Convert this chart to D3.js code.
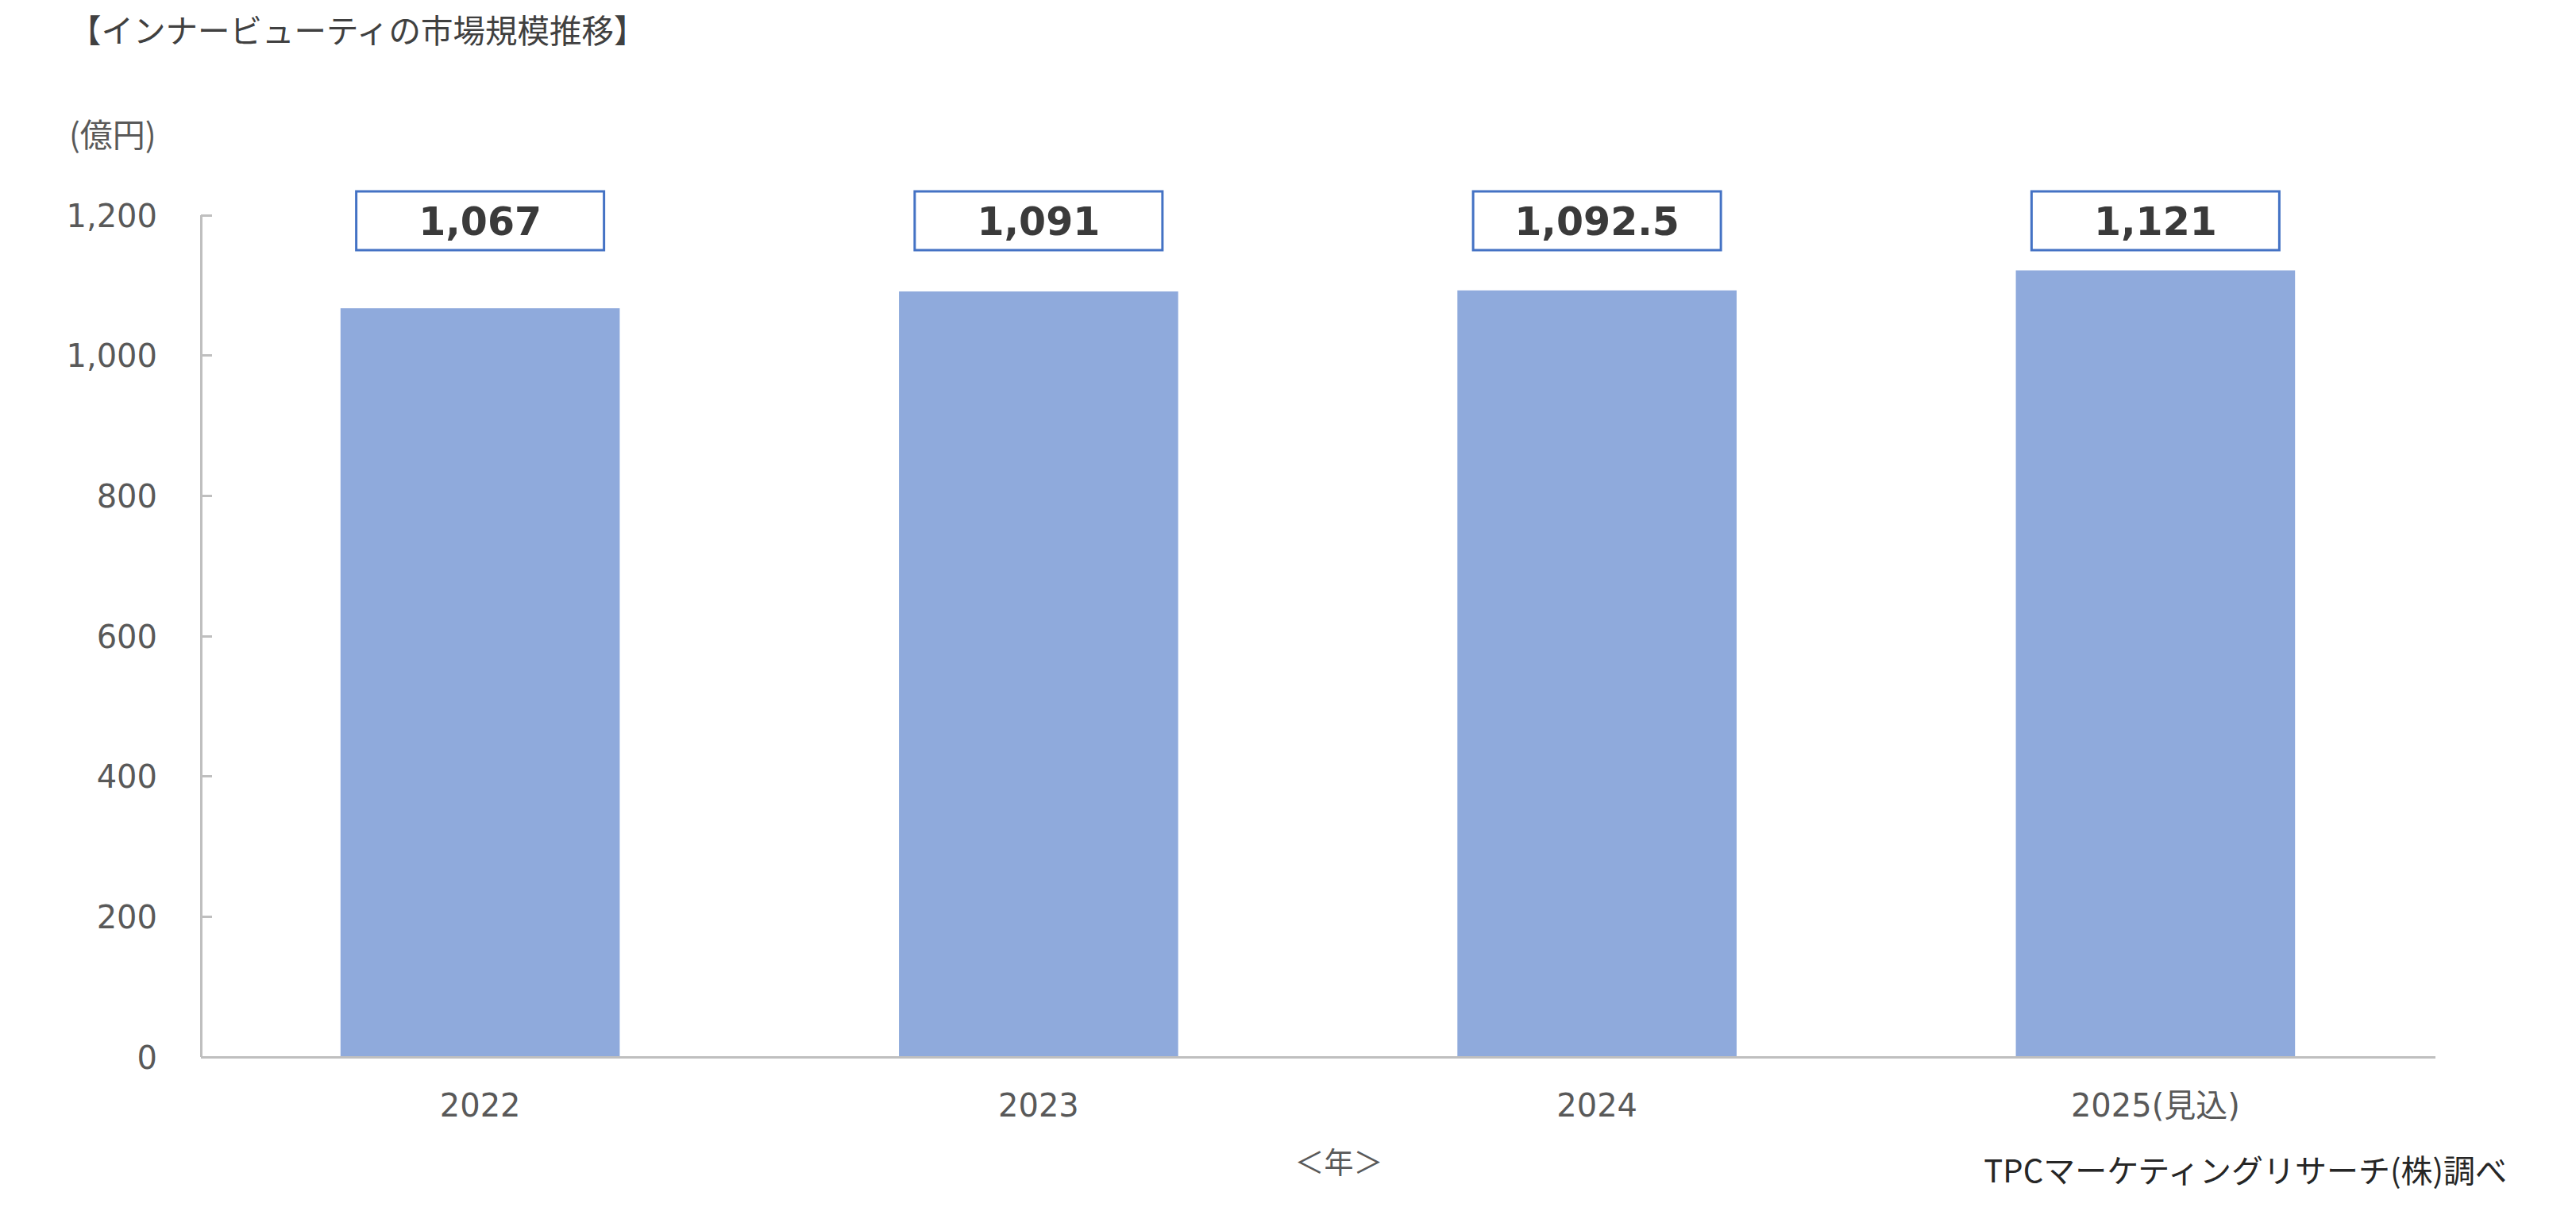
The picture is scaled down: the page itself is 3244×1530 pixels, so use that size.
<!DOCTYPE html>
<meta charset="utf-8">
<head>
<style>
  body { margin: 0; background: #ffffff; }
  svg { display: block; }
  .axis path, .axis line { fill: none; stroke: #BFBFBF; stroke-width: 3px; shape-rendering: crispEdges; }
  .axis text { fill: #595959; font-family: "DejaVu Sans", "Noto Sans CJK JP", sans-serif; font-size: 40px; }
  .bar { fill: #8FAADC; }
  .valbox { fill: #ffffff; stroke: #4472C4; stroke-width: 3px; }
  .valtext { fill: #3A3A3A; font-family: "DejaVu Sans", sans-serif; font-weight: bold; font-size: 49px; }
  .jp { font-family: "Noto Sans CJK JP", sans-serif; }
</style>
</head>
<body>
<svg id="chart" width="3244" height="1530"></svg>
<script src="https://d3js.org/d3.v7.min.js"></script>
<script>
// data
var years = ["2022", "2023", "2024", "2025(見込)"];
var marketSize = [1067, 1091, 1092.5, 1121];
var yTicks = [0, 200, 400, 600, 800, 1000, 1200];

var titleText = "【インナービューティの市場規模推移】";
var unitText = "(億円)";
var xTitle = "＜年＞";
var sourceText = "TPCマーケティングリサーチ(株)調べ";

var svg = d3.select("#chart");

var plotLeft = 253, plotRight = 3066, plotTop = 270.7, plotBottom = 1330.7;

var x = d3.scaleBand().domain(years).range([plotLeft, plotRight]).paddingInner(0.5).paddingOuter(0.25);
var y = d3.scaleLinear().domain([0, 1200]).range([plotBottom, plotTop]);

var rows = years.map(function(d, i) { return { key: d, value: marketSize[i] }; });

// bars
svg.selectAll(".bar")
    .data(rows)
    .enter()
    .append("rect")
    .attr("class", "bar")
    .attr("x", function(d) { return x(d.key); })
    .attr("width", x.bandwidth())
    .attr("y", function(d) { return y(d.value); })
    .attr("height", function(d) { return y(0) - y(d.value); });

// y axis
var yAxis = svg.append("g")
    .attr("class", "axis")
    .attr("transform", "translate(" + plotLeft + ",0)")
    .call(d3.axisLeft(y).tickValues(yTicks).tickFormat(d3.format(",")).tickSizeInner(-14).tickSizeOuter(0).tickPadding(55));
yAxis.selectAll("text").attr("dy", "0.36em");

// x axis
var xAxis = svg.append("g")
    .attr("class", "axis")
    .attr("transform", "translate(0," + plotBottom + ")")
    .call(d3.axisBottom(x).tickSize(0).tickSizeOuter(0));
xAxis.selectAll("text").attr("y", 61).attr("dy", "0.36em");

// value boxes, all on one row above the plot
var boxW = 312, boxH = 74, boxMid = 278;
var lab = svg.selectAll(".lab")
    .data(rows)
    .enter()
    .append("g")
    .attr("class", "lab");
lab.append("rect")
    .attr("class", "valbox")
    .attr("x", function(d) { return x(d.key) + x.bandwidth() / 2 - boxW / 2; })
    .attr("y", boxMid - boxH / 2)
    .attr("width", boxW)
    .attr("height", boxH);
lab.append("text")
    .attr("class", "valtext")
    .attr("x", function(d) { return x(d.key) + x.bandwidth() / 2; })
    .attr("y", boxMid)
    .attr("dy", "0.36em")
    .attr("text-anchor", "middle")
    .text(function(d) { return d3.format(",")(d.value); });

// titles
svg.append("text")
    .attr("class", "jp")
    .attr("x", 87).attr("y", 39).attr("dy", "0.36em")
    .attr("font-size", 40.5).attr("fill", "#404040")
    .text(titleText);

svg.append("text")
    .attr("class", "jp")
    .attr("x", 87).attr("y", 170).attr("dy", "0.36em")
    .attr("font-size", 41).attr("fill", "#595959")
    .text(unitText);

svg.append("text")
    .attr("class", "jp")
    .attr("x", 1686).attr("y", 1465).attr("dy", "0.36em")
    .attr("text-anchor", "middle")
    .attr("font-size", 37).attr("fill", "#595959")
    .text(xTitle);

svg.append("text")
    .attr("class", "jp")
    .attr("x", 3157).attr("y", 1475).attr("dy", "0.36em")
    .attr("text-anchor", "end")
    .attr("font-size", 40).attr("fill", "#262626")
    .text(sourceText);
</script>
</body>
</html>
